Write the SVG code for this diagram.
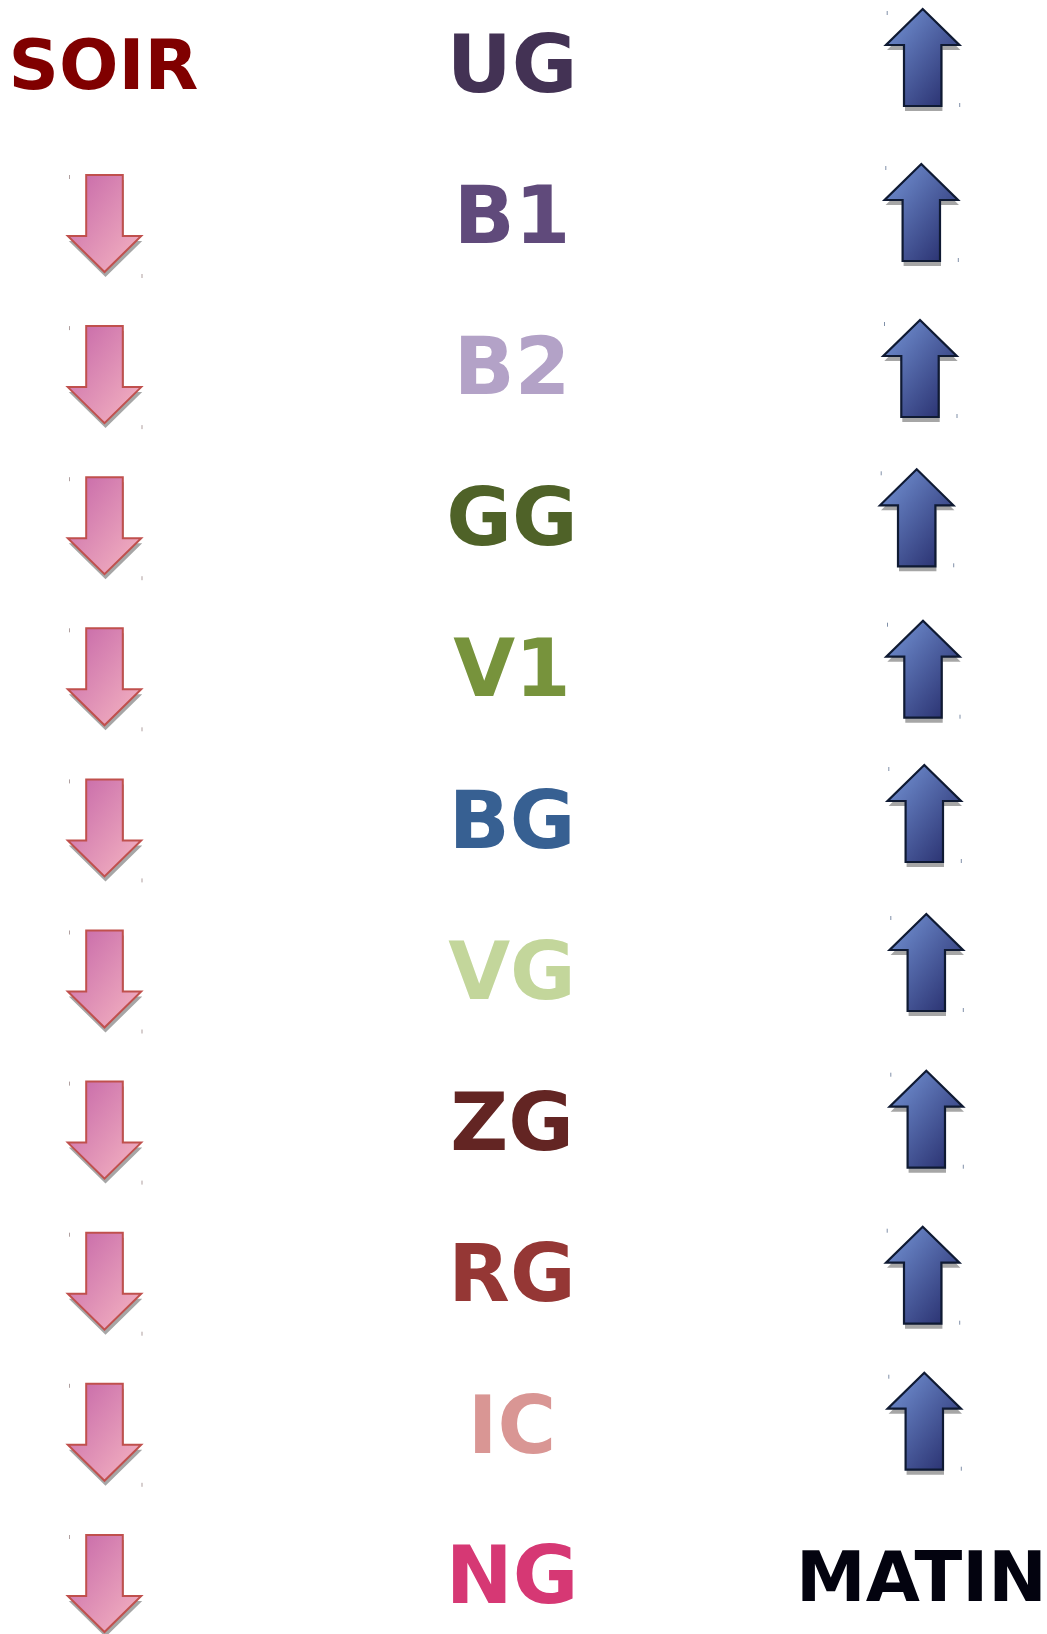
<svg xmlns="http://www.w3.org/2000/svg" xmlns:xlink="http://www.w3.org/1999/xlink" width="1047" height="1634" viewBox="0 0 1047 1634">
<style>
text{font-family:"DejaVu Sans","Liberation Sans",sans-serif;font-weight:bold;}
.lbl{font-size:80px;text-anchor:middle;}
.end{font-size:70px;text-anchor:middle;}
.sh{fill:#a6a6a6;}
.pk{fill:url(#gp);stroke:#c0504d;stroke-width:2;stroke-linejoin:miter;}
.bl{fill:url(#gb);stroke:#0f1a33;stroke-width:2.2;stroke-linejoin:miter;}
.dp{fill:#b0a0a0;}
.db{fill:#8090a8;}
</style>
<defs>
<linearGradient id="gp" x1="0" y1="0" x2="1" y2="1">
<stop offset="0" stop-color="#c566a8"/>
<stop offset="1" stop-color="#f6b6c2"/>
</linearGradient>
<linearGradient id="gb" x1="0" y1="0" x2="1" y2="1">
<stop offset="0" stop-color="#7696d8"/>
<stop offset="1" stop-color="#222766"/>
</linearGradient>
<path id="pa" d="M-18.3,0 H18.3 V61 H36.7 L0,97 L-36.7,61 H-18.3 Z"/>
<path id="ba" d="M0,0 L36.7,36 H18.7 V97 H-18.7 V36 H-36.7 Z"/>
<g id="pink">
<use xlink:href="#pa" class="sh" transform="translate(1,5)"/>
<use xlink:href="#pa" class="pk"/>
<rect x="-35.5" y="0" width="1" height="4" class="dp"/>
<rect x="37" y="99" width="1" height="4" class="dp"/>
</g>
<g id="blue">
<use xlink:href="#ba" class="sh" transform="translate(1,5)"/>
<use xlink:href="#ba" class="bl"/>
<rect x="-36" y="2" width="1" height="4" class="db"/>
<rect x="36.5" y="94" width="1" height="4" class="db"/>
</g>
</defs>

<g id="soir"><text class="end" x="103.5" y="89" fill="#800000">SOIR</text></g>
<g id="matin"><text class="end" x="921.5" y="1601" fill="#03030f">MATIN</text></g>

<g id="labels">
<g id="ug"><text class="lbl" x="512" y="92" fill="#433254">UG</text></g>
<g id="b1"><text class="lbl" x="512" y="243" fill="#604a7b">B1</text></g>
<g id="b2"><text class="lbl" x="512" y="394" fill="#b3a2c7">B2</text></g>
<g id="gg"><text class="lbl" x="512" y="545" fill="#4f6228">GG</text></g>
<g id="v1"><text class="lbl" x="512" y="696" fill="#77933c">V1</text></g>
<g id="bg"><text class="lbl" x="512" y="848" fill="#376092">BG</text></g>
<g id="vg"><text class="lbl" x="512" y="999" fill="#c3d69b">VG</text></g>
<g id="zg"><text class="lbl" x="512" y="1150" fill="#632523">ZG</text></g>
<g id="rg"><text class="lbl" x="512" y="1301" fill="#953735">RG</text></g>
<g id="ic"><text class="lbl" x="512" y="1453" fill="#d99694">IC</text></g>
<g id="ng"><text class="lbl" x="512" y="1603" fill="#d63874">NG</text></g>
</g>

<g id="connectors">
<g id="pink-arrows">
<use xlink:href="#pink" transform="translate(104.5,175)"/>
<use xlink:href="#pink" transform="translate(104.5,326.1)"/>
<use xlink:href="#pink" transform="translate(104.5,477.2)"/>
<use xlink:href="#pink" transform="translate(104.5,628.3)"/>
<use xlink:href="#pink" transform="translate(104.5,779.4)"/>
<use xlink:href="#pink" transform="translate(104.5,930.5)"/>
<use xlink:href="#pink" transform="translate(104.5,1081.6)"/>
<use xlink:href="#pink" transform="translate(104.5,1232.7)"/>
<use xlink:href="#pink" transform="translate(104.5,1383.8)"/>
<use xlink:href="#pink" transform="translate(104.5,1535)"/>
</g>
<g id="blue-arrows">
<use xlink:href="#blue" transform="translate(922.7,9)"/>
<use xlink:href="#blue" transform="translate(921.3,164)"/>
<use xlink:href="#blue" transform="translate(920,320)"/>
<use xlink:href="#blue" transform="translate(916.7,469.3)"/>
<use xlink:href="#blue" transform="translate(923,620.7)"/>
<use xlink:href="#blue" transform="translate(924.3,765)"/>
<use xlink:href="#blue" transform="translate(926.3,914)"/>
<use xlink:href="#blue" transform="translate(926.3,1070.7)"/>
<use xlink:href="#blue" transform="translate(922.7,1226.7)"/>
<use xlink:href="#blue" transform="translate(924.3,1372.7)"/>
</g>
</g>
</svg>
